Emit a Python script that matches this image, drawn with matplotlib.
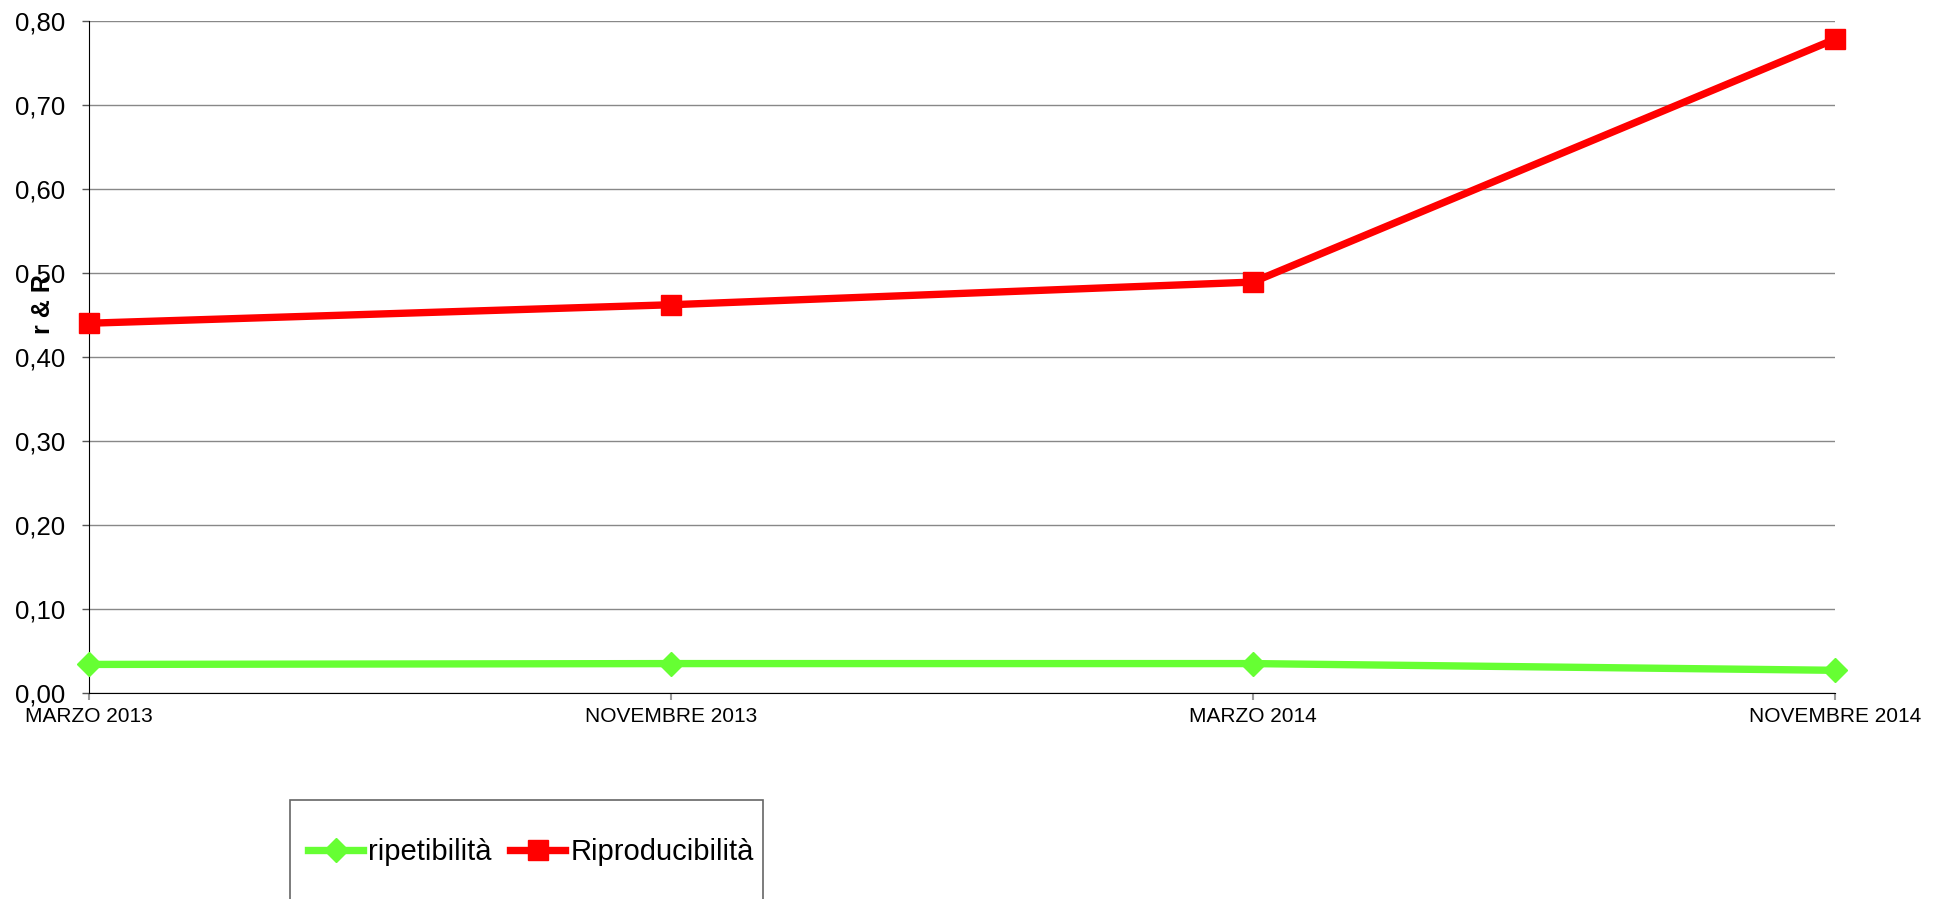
import matplotlib.pyplot as plt
from matplotlib.patches import Rectangle
from matplotlib.ticker import FuncFormatter

# r & R per sessione di prova
sessioni = ['MARZO 2013', 'NOVEMBRE 2013', 'MARZO 2014', 'NOVEMBRE 2014']
ripetibilita = [0.034, 0.035, 0.035, 0.027]
riproducibilita = [0.440, 0.462, 0.489, 0.778]
y_ticks = [0.0, 0.1, 0.2, 0.3, 0.4, 0.5, 0.6, 0.7, 0.8]

plt.rcParams['font.family'] = ['Liberation Sans', 'DejaVu Sans']

W, H = 1944, 899
fig = plt.figure(figsize=(W / 100, H / 100), dpi=100)
ax = fig.add_axes([89 / W, 1 - 693 / H, (1835 - 89) / W, (693 - 20.7) / H])

x = range(len(sessioni))
ax.plot(x, ripetibilita, color='#66FF33', lw=5.3, marker='D', ms=12,
        label='ripetibilità', clip_on=False, zorder=3)
ax.plot(x, riproducibilita, color='#FF0000', lw=5.3, marker='s', ms=15,
        label='Riproducibilità', clip_on=False, zorder=4)

ax.set_xlim(0, len(sessioni) - 1)
ax.set_ylim(0, 0.8)
ax.set_yticks(y_ticks)
ax.yaxis.set_major_formatter(FuncFormatter(lambda v, p: f'{v:.2f}'.replace('.', ',')))
ax.set_xticks(list(x))
ax.set_xticklabels(sessioni, fontsize=15)
ax.tick_params(axis='y', labelsize=18.5, length=5, width=1, color='#555555', pad=12)
ax.tick_params(axis='x', length=5, width=1.5, color='#999999', pad=5)

ax.grid(axis='y', color='#888888', lw=1)
ax.set_axisbelow(True)
for side in ('top', 'right'):
    ax.spines[side].set_visible(False)
ax.spines['left'].set_color('black')
ax.spines['bottom'].set_color('black')

fig.text(43 / W, 1 - 304 / H, 'r & R', rotation=90, fontsize=18, fontweight='bold',
         ha='center', va='center')

# riquadro legenda (continua oltre il bordo inferiore)
fig.patches.append(Rectangle((290 / W, -0.05), (763 - 290) / W, 1 - 800 / H + 0.05,
                             transform=fig.transFigure, fill=False,
                             edgecolor='#666666', lw=1.2))
fig.legend(loc='center left', bbox_to_anchor=(308 / W, 1 - 852 / H), ncol=2,
           frameon=False, fontsize=21, handlelength=1.9, handletextpad=0.17,
           columnspacing=0.62, borderaxespad=0, borderpad=0)

fig.savefig('out.png', dpi=100)
